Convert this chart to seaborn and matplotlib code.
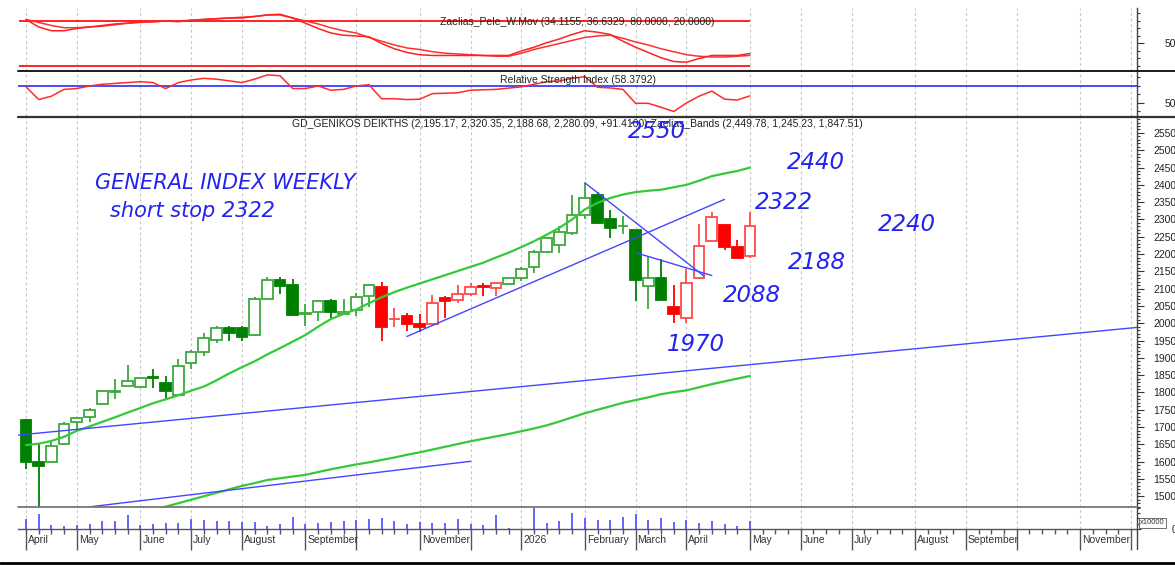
import numpy as np
import matplotlib
matplotlib.use("Agg")
import matplotlib.pyplot as plt
import seaborn as sns
from matplotlib.lines import Line2D
from matplotlib.patches import Rectangle
from matplotlib.ticker import MultipleLocator, FixedLocator, FormatStrFormatter
import matplotlib.transforms as mtransforms

# ------------------------------------------------------------------ data
opens = [1720, 1598, 1598, 1650, 1714, 1729, 1766, 1801, 1820, 1817,
         1846, 1827, 1792, 1885, 1917, 1952, 1985, 1985, 1965, 2071,
         2125, 2110, 2027, 2033, 2063, 2028, 2038, 2079, 2104, 2011,
         2020, 1998, 1997, 2072, 2066, 2086, 2107, 2103, 2113, 2130,
         2163, 2207, 2225, 2262, 2312, 2372, 2300, 2280, 2269, 2107,
         2132, 2048, 2014, 2132, 2239, 2285, 2220, 2195.17]
highs = [1722, 1651, 1658, 1716, 1728, 1755, 1806, 1838, 1880, 1845,
         1867, 1847, 1896, 1922, 1973, 1992, 1992, 1993, 2077, 2135,
         2133, 2129, 2057, 2064, 2069, 2071, 2088, 2113, 2119, 2045,
         2029, 2026, 2083, 2079, 2112, 2117, 2117, 2116, 2132, 2162,
         2213, 2247, 2281, 2372, 2406, 2380, 2326, 2310, 2270, 2192,
         2187, 2112, 2158, 2286, 2322, 2286, 2242, 2320.35]
lows = [1580, 1460, 1597, 1648, 1694, 1715, 1765, 1781, 1819, 1812,
        1813, 1781, 1790, 1867, 1906, 1942, 1949, 1949, 1963, 2070,
        2086, 2022, 1992, 2007, 2013, 2026, 2021, 2047, 1949, 1989,
        1978, 1975, 1996, 2016, 2060, 2079, 2079, 2079, 2112, 2122,
        2146, 2204, 2204, 2255, 2300, 2288, 2247, 2257, 2064, 2040,
        2066, 2000, 2000, 2127, 2238, 2213, 2188.68, 2188.68]
closes = [1600, 1588, 1644, 1708, 1727, 1750, 1805, 1805, 1833, 1843,
          1841, 1803, 1877, 1917, 1958, 1985, 1973, 1960, 2071, 2125,
          2108, 2023, 2029, 2063, 2033, 2033, 2077, 2112, 1988, 2013,
          1998, 1989, 2060, 2065, 2086, 2106, 2105, 2115, 2130, 2158,
          2207, 2246, 2265, 2312, 2362, 2290, 2275, 2282, 2124, 2132,
          2066, 2028, 2117, 2223, 2307, 2221, 2188.68, 2280.09]
# trend state of the colouring indicator (G = green phase, R = red phase)
trend = list("G" * 28 + "R" * 10 + "G" * 13 + "R" * 7)

volume = [90, 140, 33, 30, 40, 47, 70, 70, 130, 37,
          50, 53, 60, 90, 83, 73, 70, 63, 63, 30,
          50, 110, 50, 53, 67, 70, 83, 93, 100, 77,
          47, 63, 60, 53, 90, 43, 37, 127, 8, 0,
          200, 60, 77, 150, 100, 83, 83, 110, 143, 83,
          100, 63, 80, 53, 70, 47, 30, 70]

band_upper = [1648, 1652, 1660, 1672, 1689, 1702, 1715, 1728, 1742, 1755,
              1769, 1780, 1792, 1805, 1817, 1835, 1855, 1873, 1890, 1910,
              1928, 1947, 1966, 1990, 2012, 2027, 2040, 2058, 2075, 2090,
              2103, 2115, 2127, 2139, 2151, 2163, 2175, 2190, 2204, 2220,
              2237, 2256, 2276, 2300, 2329, 2348, 2362, 2372, 2379, 2383,
              2386, 2393, 2400, 2412, 2425, 2433, 2440, 2449.78]
band_middle = [np.nan] * 10 + [
              1462, 1470, 1480, 1490, 1500, 1510, 1520, 1530, 1538, 1547,
              1552, 1557, 1562, 1570, 1578, 1585, 1592, 1598, 1605, 1612,
              1620, 1627, 1635, 1643, 1651, 1659, 1666, 1673, 1680, 1688,
              1696, 1705, 1716, 1728, 1740, 1750, 1760, 1770, 1778, 1786,
              1795, 1801, 1806, 1815, 1824, 1832, 1840, 1847.51]
band_lower_last = 1245.23

pele_fast = [82, 72, 67, 67, 70, 72, 74, 76, 77, 79,
             79, 80, 79, 81, 82, 83, 84, 84, 86, 88,
             89, 84, 77, 70, 64, 61, 60, 59, 50, 43,
             38, 35, 34, 34, 34, 34, 34, 34, 34, 40,
             45, 51, 56, 62, 67, 65, 62, 53, 45, 38,
             31, 26, 25, 30, 34, 34, 34, 36.6329]
pele_slow = [82, 78, 74, 71, 71, 72, 73, 75, 77, 78,
             79, 80, 80, 81, 82, 83, 84, 85, 86, 88,
             88, 84, 80, 76, 71, 67, 64, 58, 53, 48,
             44, 42, 39, 37, 36, 35, 34, 33, 33, 37,
             42, 46, 50, 54, 58, 60, 61, 57, 52, 48,
             43, 39, 35, 33, 32, 32, 33, 34.1155]
pele_levels = [80.0, 20.0]

rsi = [69, 54, 58, 66, 67, 70, 72, 73, 74, 75,
       74, 67, 74, 77, 79, 78, 76, 74, 78, 83,
       82, 67, 67, 70, 65, 66, 70, 71.5, 55, 55,
       54, 54.5, 61, 61.5, 62, 65, 65.5, 66, 67.5, 69,
       72, 75, 76, 79, 81, 68.5, 67.7, 66, 49.6, 49.6,
       45, 40, 50, 58, 64, 54.5, 53.4, 58.3792]
rsi_level = 70

# drawn trend lines: (start week, start price, end week, end price)
trend_lines = [
    (-0.6, 1677, 87.48, 1988),
    (4.9, 1469, 35.0, 1601),
    (30.0, 1962, 55.0, 2358),
    (44.0, 2406, 53.4, 2136),
    (48.0, 2204, 54.0, 2138),
]

# x axis: first weekly bar of each month (bar index) and its label
month_idx = [0, 4, 9, 13, 17, 22, 26, 31, 35, 39, 44, 48, 52, 57,
             61, 65, 70, 74, 78, 83, 87]
month_labels = ["April", "May", "June", "July", "August", "September", "",
                "November", "", "2026", "February", "March", "April", "May",
                "June", "July", "August", "September", "", "November", ""]
n_slots = 88

# ------------------------------------------------------------------ style
sns.set_theme(style="white")
plt.rcParams["font.family"] = ["Liberation Sans", "DejaVu Sans"]

W, H = 1175, 565
fig = plt.figure(figsize=(W / 100, H / 100), dpi=100)
fig.patch.set_facecolor("white")


def rect(x0, y0, x1, y1):
    return [x0 / W, 1 - y1 / H, (x1 - x0) / W, (y1 - y0) / H]


X0, X1 = 18, 1137
ax_osc = fig.add_axes(rect(X0, 8, X1, 71))
ax_rsi = fig.add_axes(rect(X0, 71, X1, 116))
ax_main = fig.add_axes(rect(X0, 116, X1, 507))
ax_vol = fig.add_axes(rect(X0, 507, X1, 529))

idx = np.arange(len(closes))
xlim = (-0.63, 87.48)
grid_kw = dict(color="#c6c6c6", lw=0.8, ls=(0, (2.5, 2.5)), zorder=0)

for ax in (ax_osc, ax_rsi, ax_main, ax_vol):
    ax.set_xlim(*xlim)
    ax.set_facecolor("white")
    for s in ("top", "left", "bottom"):
        ax.spines[s].set_visible(False)
    ax.spines["right"].set_color("#444444")
    ax.spines["right"].set_linewidth(1.0)
    ax.yaxis.tick_right()
    ax.grid(False)
    for m in month_idx:
        ax.axvline(m, **grid_kw)
    ax.set_xticks(month_idx)
    ax.tick_params(axis="y", which="both", direction="out", color="#333333",
                   labelcolor="#222222", labelsize=7.5, width=0.8)
    ax.tick_params(axis="y", which="major", length=5)
    ax.tick_params(axis="y", which="minor", length=2.5, left=False, right=True)

for ax in (ax_osc, ax_rsi, ax_main):
    ax.tick_params(axis="x", length=0, labelbottom=False)

# ---- oscillator panel
ax_osc.set_ylim(13.3, 97.3)
ax_osc.hlines(pele_levels, idx[0] - 0.55, idx[-1], color="#ff1010", lw=1.3, zorder=2)
sns.lineplot(x=idx, y=pele_slow, ax=ax_osc, color="#ff3030", linewidth=1.1, zorder=3)
sns.lineplot(x=idx, y=pele_fast, ax=ax_osc, color="#ff2020", linewidth=1.1, zorder=3)
ax_osc.yaxis.set_major_locator(FixedLocator([50]))
ax_osc.yaxis.set_minor_locator(MultipleLocator(10))
ax_osc.yaxis.set_major_formatter(FormatStrFormatter("%d"))
ax_osc.tick_params(axis="y", which="major", pad=15)
ax_osc.set_ylabel("")
ax_osc.text(0.5, 0.78,
            f"Zaelias_Pele_W.Mov ({pele_slow[-1]:.4f}, {pele_fast[-1]:.4f}, "
            f"{pele_levels[0]:.4f}, {pele_levels[1]:.4f})",
            transform=ax_osc.transAxes, ha="center", va="center",
            fontsize=7.5, color="#222222", zorder=6)

# ---- RSI panel
ax_rsi.set_ylim(34.7, 87.6)
ax_rsi.axhline(rsi_level, color="#2b2bff", lw=1.2, zorder=2)
sns.lineplot(x=idx, y=rsi, ax=ax_rsi, color="#ff2a2a", linewidth=1.1, zorder=3)
ax_rsi.yaxis.set_major_locator(FixedLocator([50]))
ax_rsi.yaxis.set_minor_locator(MultipleLocator(10))
ax_rsi.yaxis.set_major_formatter(FormatStrFormatter("%d"))
ax_rsi.tick_params(axis="y", which="major", pad=15)
ax_rsi.set_ylabel("")
ax_rsi.text(0.5, 0.8, f"Relative Strength Index ({rsi[-1]:.4f})",
            transform=ax_rsi.transAxes, ha="center", va="center",
            fontsize=7.5, color="#222222", zorder=6)

# ---- main price panel
ax_main.set_ylim(1469, 2599)
ax_main.yaxis.set_major_locator(MultipleLocator(50))
ax_main.yaxis.set_minor_locator(MultipleLocator(10))
ax_main.yaxis.set_major_formatter(FormatStrFormatter("%d"))
ax_main.tick_params(axis="y", which="major", pad=6.5)

bw = 0.84
for i in idx:
    o, h, l, c = opens[i], highs[i], lows[i], closes[i]
    if trend[i] == "G":
        dark, light = "#008000", "#3ca83c"
    else:
        dark, light = "#ff0000", "#ff4a4a"
    filled = c < o
    ec = dark if filled else light
    ax_main.vlines(i, l, h, color=ec, lw=1.3, zorder=3)
    lo, hi = min(o, c), max(o, c)
    ax_main.add_patch(Rectangle((i - bw / 2, lo), bw, max(hi - lo, 1.5),
                                facecolor=dark if filled else "white",
                                edgecolor=ec, lw=1.3, zorder=4))

sns.lineplot(x=idx, y=band_upper, ax=ax_main, color="#35c935", linewidth=1.6, zorder=5)
sns.lineplot(x=idx, y=band_middle, ax=ax_main, color="#35c935", linewidth=1.6, zorder=5)
for x_a, y_a, x_b, y_b in trend_lines:
    ax_main.plot([x_a, x_b], [y_a, y_b], color="#4545ff", lw=1.0, zorder=5)
ax_main.set_ylabel("")

main_title = (f"GD_GENIKOS DEIKTHS ({opens[-1]:,.2f}, {highs[-1]:,.2f}, "
              f"{lows[-1]:,.2f}, {closes[-1]:,.2f}, "
              f"+{closes[-1] - closes[-2]:.4f}) Zaelias_Bands "
              f"({band_upper[-1]:,.2f}, {band_lower_last:,.2f}, {band_middle[-1]:,.2f})")
ax_main.text(0.5, 0.979, main_title, transform=ax_main.transAxes,
             ha="center", va="center", fontsize=7.5, color="#222222", zorder=6)

# hand-drawn notes (clipped a little below the panel top, like the reference)
note_clip = Rectangle((X0 / W, 1 - 507 / H), (X1 - X0) / W, (507 - 122) / H,
                      transform=fig.transFigure, fc="none", ec="none")
fig.add_artist(note_clip)
note_clip.set_visible(False)
note_kw = dict(color="#2323f0", style="italic", family=["DejaVu Sans"],
               ha="left", va="center", zorder=7)
notes = [ax_main.text(5.4, 2404, "GENERAL INDEX WEEKLY", fontsize=15, **note_kw),
         ax_main.text(6.6, 2325, "short stop 2322", fontsize=15, **note_kw)]
for label, xw, yp in [("2550", 47.4, 2553), ("2440", 59.9, 2464),
                      ("2322", 57.4, 2349), ("2240", 67.1, 2286),
                      ("2188", 60.0, 2176), ("2088", 54.9, 2081),
                      ("1970", 50.5, 1939)]:
    notes.append(ax_main.text(xw, yp, label, fontsize=16.5, **note_kw))
for t in notes:
    t.set_clip_path(note_clip)

# ---- volume panel
ax_vol.set_ylim(0, 205)
ax_vol.vlines(idx, 0, volume, color="#3a3aff", lw=1.1, zorder=3)
ax_vol.yaxis.set_major_locator(FixedLocator([0]))
ax_vol.yaxis.set_minor_locator(MultipleLocator(50))
ax_vol.yaxis.set_major_formatter(FormatStrFormatter("%d"))
ax_vol.tick_params(axis="y", which="major", length=3, pad=22)
ax_vol.xaxis.set_minor_locator(FixedLocator(np.arange(n_slots)))
ax_vol.tick_params(axis="x", which="major", direction="out", length=15,
                   width=1.0, color="#555555", labelbottom=False, bottom=True)
ax_vol.tick_params(axis="x", which="minor", direction="out", length=3.5,
                   width=1.0, color="#555555", bottom=True)
ax_vol.spines["bottom"].set_visible(True)
ax_vol.spines["bottom"].set_color("#555555")
ax_vol.spines["bottom"].set_linewidth(1.0)
ax_vol.set_ylabel("")

off = mtransforms.ScaledTranslation(2 / 100, 0, fig.dpi_scale_trans)
lab_tr = mtransforms.blended_transform_factory(ax_vol.transData, ax_vol.transAxes) + off
for m, lab in zip(month_idx, month_labels):
    if lab:
        ax_vol.text(m, -0.52, lab, transform=lab_tr, ha="left", va="center",
                    fontsize=7.5, color="#333333", clip_on=False)

fig.text(1140 / W, 1 - 523 / H, "x10000", fontsize=5.5, color="#333333",
         ha="left", va="center",
         bbox=dict(boxstyle="square,pad=0.15", fc="white", ec="#555555", lw=0.6))

# ---- panel separators / frame lines
fig.add_artist(Line2D([X0 / W, 1], [1 - 71 / H] * 2, color="#1a1a1a", lw=1.4))
fig.add_artist(Line2D([X0 / W, 1], [1 - 116.5 / H] * 2, color="#333333", lw=1.6))
fig.add_artist(Line2D([X0 / W, X1 / W], [1 - 507 / H] * 2, color="#777777", lw=1.3))
fig.add_artist(Line2D([X1 / W, X1 / W], [1 - 529 / H, 1 - 549 / H], color="#444444", lw=1.0))
fig.add_artist(Line2D([0, 1], [1 - 563 / H] * 2, color="#000000", lw=2.0))

fig.savefig("out.png", dpi=100)
